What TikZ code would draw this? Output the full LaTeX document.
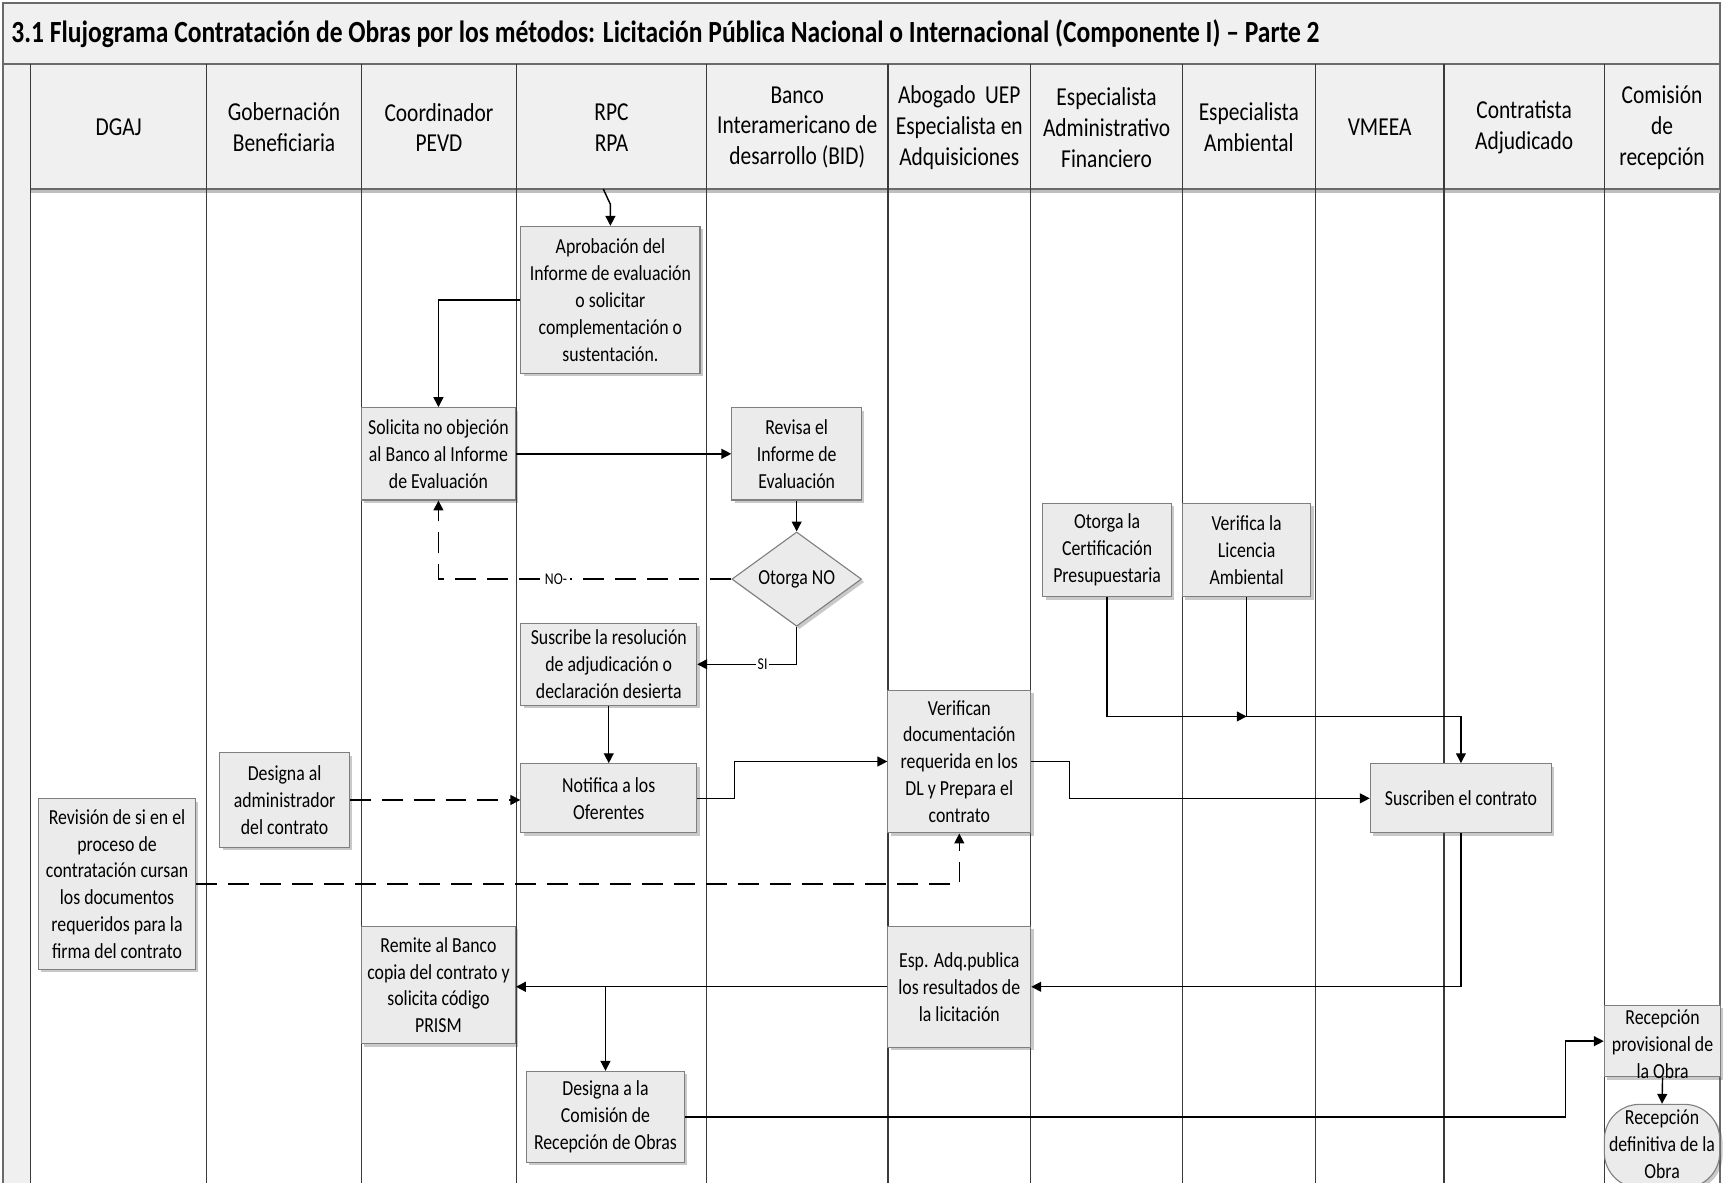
\documentclass[tikz,border=0pt]{standalone}
\usepackage{fontspec}
\setmainfont{Carlito}[FakeStretch=0.83]
\usetikzlibrary{arrows.meta,shapes.geometric,shadows,calc}

\definecolor{boxfill}{HTML}{EBEBEB}
\definecolor{boxline}{HTML}{7F7F7F}
\definecolor{hdrfill}{HTML}{F0F0F0}
\definecolor{laneline}{HTML}{3A3A3A}
\definecolor{frameline}{HTML}{6A6A6A}

\newcommand\boxtxt{\fontsize{9.75pt}{12.25pt}\selectfont}
\newcommand\headtxt{\fontsize{11.75pt}{14pt}\selectfont}
\newcommand\titletxt{\fontsize{14pt}{16pt}\selectfont\bfseries}
\newcommand\labtxt{\fontsize{7.5pt}{9pt}\selectfont}

\begin{document}
\begin{tikzpicture}[x=0.5pt,y=-0.5pt,
  proc/.style={draw=boxline, line width=0.5pt, fill=boxfill, align=center,
    inner sep=1pt, font=\boxtxt,
    drop shadow={shadow xshift=1.3pt, shadow yshift=-1.3pt, opacity=0.3, fill=black!70}},
  decision/.style={proc, diamond, inner sep=0pt},
  terminal/.style={proc, rounded corners=16pt},
  plain/.style={align=center, inner sep=0pt, font=\boxtxt},
  head/.style={align=center, inner sep=0pt, font=\headtxt},
  conn/.style={line width=0.65pt, -{Triangle[length=4.5pt,width=4.5pt]}},
  dashconn/.style={conn, dash pattern=on 9.5pt off 5pt},
  lab/.style={fill=white, inner sep=0.8pt, font=\labtxt},
  lane/.style={draw=laneline, line width=0.6pt},
  frame/.style={draw=frameline, line width=0.8pt}
]
\useasboundingbox (0,0) rectangle (1568,1076);

% ---- pool frame, title band and lane headers
\fill[hdrfill] (3,3) rectangle (1565,172);
\fill[hdrfill] (3,172) rectangle (28,1080);
\draw[frame] (3,1080) -- (3,3) -- (1565,3) -- (1565,1080);
\draw[frame] (3,58) -- (1565,58);
\fill[black!25] (28,172) rectangle (1565,176);
\draw[frameline, line width=1pt] (28,172) -- (1565,172);
\foreach \x in {28,188,329,470,643,808,938,1076,1197,1314,1460}
  \draw[lane] (\x,58) -- (\x,1080);

\node[anchor=west, font=\titletxt, inner sep=0pt] (title) at (10,31)
  {3.1 Flujograma Contratación de Obras por los métodos: Licitación Pública Nacional o Internacional (Componente I) – Parte 2};

\node[head] (h1)  at (108,116)    {DGAJ};
\node[head] (h2)  at (258.5,116)  {Gobernación\\Beneficiaria};
\node[head] (h3)  at (399.5,116)  {Coordinador\\PEVD};
\node[head] (h4)  at (556.5,116)  {RPC\\RPA};
\node[head] (h5)  at (725.5,116)  {Banco\\Interamericano de\\desarrollo (BID)};
\node[head] (h6)  at (873,116)    {Abogado\ \ UEP\\Especialista en\\Adquisiciones};
\node[head] (h7)  at (1007,116)   {Especialista\\Administrativo\\Financiero};
\node[head] (h8)  at (1136.5,116) {Especialista\\Ambiental};
\node[head] (h9)  at (1255.5,116) {VMEEA};
\node[head] (h10) at (1387,116)   {Contratista\\Adjudicado};
\node[head] (h11) at (1512.5,116) {Comisión\\de\\recepción};

% ---- process steps
\node[proc, minimum width=81.5pt, minimum height=67pt] (aprob) at (555.5,273)
  {Aprobación del\\Informe de evaluación\\o solicitar\\complementación o\\sustentación.};
\node[proc, minimum width=70pt, minimum height=42pt] (solic) at (399,413)
  {Solicita no objeción\\al Banco al Informe\\de Evaluación};
\node[proc, minimum width=59pt, minimum height=42pt] (revisa) at (725,413)
  {Revisa el\\Informe de\\Evaluación};
\node[decision, minimum width=59pt, minimum height=42pt] (otorga) at (725,527)
  {Otorga NO};
\node[proc, minimum width=80pt, minimum height=37.5pt] (susc) at (554,604.5)
  {Suscribe la resolución\\de adjudicación o\\declaración desierta};
\node[proc, minimum width=80pt, minimum height=31.5pt] (notif) at (554,726.5)
  {Notifica a los\\Oferentes};
\node[proc, minimum width=65pt, minimum height=65pt] (verif) at (873,693)
  {Verifican\\documentación\\requerida en los\\DL y Prepara el\\contrato};
\node[proc, minimum width=82.5pt, minimum height=31.5pt] (suscr) at (1329.5,726.5)
  {Suscriben el contrato};
\node[proc, minimum width=58.5pt, minimum height=42.5pt] (certif) at (1007.5,500.5)
  {Otorga la\\Certificación\\Presupuestaria};
\node[proc, minimum width=58.5pt, minimum height=42.5pt] (licen) at (1134.5,500.5)
  {Verifica la\\Licencia\\Ambiental};
\node[proc, minimum width=59pt, minimum height=43pt] (admin) at (259,728)
  {Designa al\\administrador\\del contrato};
\node[proc, minimum width=71.5pt, minimum height=77.5pt] (revis) at (106.5,804.5)
  {Revisión de si en el\\proceso de\\contratación cursan\\los documentos\\requeridos para la\\firma del contrato};
\node[proc, minimum width=65pt, minimum height=55pt] (espadq) at (873,898)
  {Esp. Adq.publica\\los resultados de\\la licitación};
\node[proc, minimum width=70pt, minimum height=53.5pt] (remite) at (399,896.5)
  {Remite al Banco\\copia del contrato y\\solicita código\\PRISM};
\node[proc, minimum width=72pt, minimum height=41.5pt] (comis) at (551,1016.5)
  {Designa a la\\Comisión de\\Recepción de Obras};
\node[proc, minimum width=53pt, minimum height=32.5pt] (prov) at (1513,947.5) {};
\node[plain] (provtxt) at (1513,950) {Recepción\\provisional de\\la Obra};
\node[terminal, minimum width=52.5pt, minimum height=38pt] (defin) at (1512.5,1043) {};
\node[plain] (defintxt) at (1512.5,1041) {Recepción\\definitiva de la\\Obra};

% ---- flow
\coordinate (entry) at (549,172);
\draw[conn] (entry) -- (555.5,186) -- (aprob.north);
\draw[conn] (aprob.west) -| (solic.north);
\draw[conn] (solic.east) -- (solic.east -| revisa.west);
\draw[conn] (revisa.south) -- (otorga.north);
\draw[dashconn] (otorga.west) -| (solic.south);
\node[lab, minimum width=13pt] (nolab) at (506,527) {NO-};
\draw[conn] (otorga.south) |- (susc.east);
\node[lab] (silab) at (694,604.5) {SI};
\draw[conn] (susc.south) -- (notif.north);
\draw[conn] (notif.east) -- ++(34,0) |- (verif.west);
\draw[conn] (verif.east) -- ++(35,0) |- (suscr.west);
\coordinate (merge) at (1134.5,652);
\draw[conn] (certif.south) |- (merge);
\draw[conn] (licen.south) -- (merge) -| (suscr.north);
\draw[dashconn] (admin.east) -- (admin.east -| notif.west);
\draw[dashconn] (revis.east) -| (verif.south);
\draw[conn] (suscr.south) |- (espadq.east);
\draw[conn] (espadq.west) -- (espadq.west -| remite.east);
\draw[conn] (comis.north |- espadq.west) -- (comis.north);
\draw[conn] (comis.east) -- ++(801,0) |- (prov.west);
\draw[conn] (prov.south) -- (defin.north);
\end{tikzpicture}
\end{document}
